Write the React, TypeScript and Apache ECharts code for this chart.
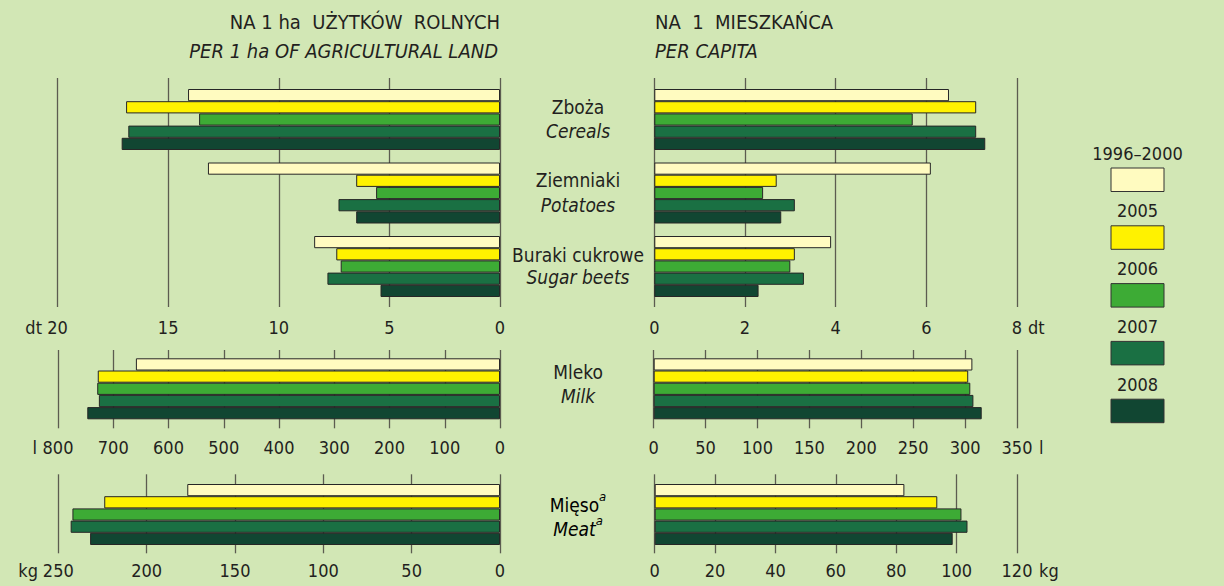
import React, { useEffect, useRef } from "react";
import * as echarts from "echarts";

// ---- data ----
const years = ["1996–2000", "2005", "2006", "2007", "2008"];
const yearColors = ["#fffbc0", "#fff200", "#3dab35", "#1a7043", "#114632"];

const cropNamesPL = ["Zboża", "Ziemniaki", "Buraki cukrowe"];
const cropNamesEN = ["Cereals", "Potatoes", "Sugar beets"];

// values per year (1996–2000, 2005, 2006, 2007, 2008)
const cerealsPerHa = [14.1, 16.9, 13.6, 16.8, 17.1];
const potatoesPerHa = [13.2, 6.5, 5.6, 7.3, 6.5];
const beetsPerHa = [8.4, 7.4, 7.2, 7.8, 5.4];
const cerealsPerCapita = [6.5, 7.1, 5.7, 7.1, 7.3];
const potatoesPerCapita = [6.1, 2.7, 2.4, 3.1, 2.8];
const beetsPerCapita = [3.9, 3.1, 3.0, 3.3, 2.3];
const milkPerHa = [659, 728, 729, 726, 747];
const milkPerCapita = [307, 303, 305, 308, 316];
const meatPerHa = [177, 224, 242, 243, 232];
const meatPerCapita = [82.7, 93.6, 101.6, 103.6, 98.7];

// axis ranges / ticks
const cropsHaAxis = { max: 20, interval: 5 };
const cropsCapAxis = { max: 8, interval: 2 };
const milkHaAxis = { max: 800, interval: 100 };
const milkCapAxis = { max: 350, interval: 50 };
const meatHaAxis = { max: 250, interval: 50 };
const meatCapAxis = { max: 120, interval: 20 };

const FONT = "'Liberation Sans Narrow','DejaVu Sans Condensed','Arial Narrow',sans-serif";
const TXT = "#231f20";
const BG = "#d2e7b5";
const GRIDLINE = "#5c5c50";
const AXIS_FS = 18;
const TITLE_FS = 20;
const CAT_FS = 19;
const LEG_FS = 18;

type Panel = {
  left: number; width: number; linesTop: number; linesH: number;
  barsTop: number; barsH: number; axis: { max: number; interval: number };
  inverse: boolean; products: number[][]; margin: number;
};

const panels: Panel[] = [
  { left: 57.5, width: 442.5, linesTop: 78, linesH: 229, barsTop: 82.75, barsH: 220.5, axis: cropsHaAxis, inverse: true, products: [cerealsPerHa, potatoesPerHa, beetsPerHa], margin: 11 },
  { left: 654.3, width: 362.7, linesTop: 78, linesH: 229, barsTop: 82.75, barsH: 220.5, axis: cropsCapAxis, inverse: false, products: [cerealsPerCapita, potatoesPerCapita, beetsPerCapita], margin: 11 },
  { left: 58, width: 442, linesTop: 350, linesH: 78.3, barsTop: 358.3, barsH: 61, axis: milkHaAxis, inverse: true, products: [milkPerHa], margin: 10 },
  { left: 653.7, width: 363.3, linesTop: 350, linesH: 78.3, barsTop: 358.3, barsH: 61, axis: milkCapAxis, inverse: false, products: [milkPerCapita], margin: 10 },
  { left: 58.3, width: 441.7, linesTop: 474.3, linesH: 79, barsTop: 484, barsH: 61, axis: meatHaAxis, inverse: true, products: [meatPerHa], margin: 8 },
  { left: 654.7, width: 362.3, linesTop: 474.3, linesH: 79, barsTop: 484, barsH: 61, axis: meatCapAxis, inverse: false, products: [meatPerCapita], margin: 8 },
];

function buildOption() {
  const grid: any[] = [];
  const xAxis: any[] = [];
  const yAxis: any[] = [];
  const series: any[] = [];

  panels.forEach((p, pi) => {
    // gridlines + labels
    grid.push({ left: p.left, width: p.width, top: p.linesTop, height: p.linesH });
    xAxis.push({
      type: "value", gridIndex: 2 * pi, min: 0, max: p.axis.max, interval: p.axis.interval,
      inverse: p.inverse, position: "bottom",
      axisLine: { show: false }, axisTick: { show: false },
      splitLine: { show: true, lineStyle: { color: GRIDLINE, width: 1.3 } },
      axisLabel: { show: true, margin: p.margin, color: TXT, fontSize: AXIS_FS, fontFamily: FONT },
    });
    yAxis.push({ type: "category", gridIndex: 2 * pi, data: [""], show: false });
    // bars
    grid.push({ left: p.left, width: p.width, top: p.barsTop, height: p.barsH });
    xAxis.push({
      type: "value", gridIndex: 2 * pi + 1, min: 0, max: p.axis.max, inverse: p.inverse, show: false,
    });
    yAxis.push({
      type: "category", gridIndex: 2 * pi + 1, inverse: true, show: false,
      data: p.products.map((_, i) => (p.products.length === 1 ? "x" : cropNamesEN[i])),
    });
    years.forEach((y, yi) => {
      series.push({
        type: "bar", name: y, xAxisIndex: 2 * pi + 1, yAxisIndex: 2 * pi + 1,
        data: p.products.map((arr) => arr[yi]),
        barWidth: 12.2, barGap: "0%",
        itemStyle: { color: yearColors[yi], borderColor: "#262626", borderWidth: 1 },
        silent: true,
      });
    });
  });

  const txt = (x: number, y: number, text: string, align: string, italic = false, size = TITLE_FS) => ({
    type: "text", x, y,
    style: { text, fill: TXT, font: `${italic ? "italic " : ""}${size}px ${FONT}`, align, verticalAlign: "middle" },
  });

  const graphic: any[] = [];
  // titles
  graphic.push(txt(500, 22, "NA 1 ha  UŻYTKÓW  ROLNYCH", "right"));
  graphic.push(txt(498, 51, "PER 1 ha OF AGRICULTURAL LAND", "right", true));
  graphic.push(txt(655, 22, "NA  1  MIESZKAŃCA", "left"));
  graphic.push(txt(655, 51, "PER CAPITA", "left", true));
  // category labels
  const catYs = [[107, 131], [180, 205], [255, 277]];
  cropNamesPL.forEach((n, i) => {
    graphic.push(txt(578, catYs[i][0], n, "center", false, CAT_FS));
    graphic.push(txt(578, catYs[i][1], cropNamesEN[i], "center", true, CAT_FS));
  });
  graphic.push(txt(578, 372, "Mleko", "center", false, CAT_FS));
  graphic.push(txt(578, 396, "Milk", "center", true, CAT_FS));
  const sup = (base: string, italic: boolean, y: number) => ({
    type: "text", x: 578, y,
    style: {
      text: `{b|${base}}{s|a}`, align: "center", verticalAlign: "middle",
      rich: {
        b: { fontSize: CAT_FS, fontFamily: FONT, fontStyle: italic ? "italic" : "normal", color: TXT, lineHeight: 24, verticalAlign: "bottom" },
        s: { fontSize: 13, fontFamily: FONT, fontStyle: "italic", color: TXT, lineHeight: 24, verticalAlign: "top" },
      },
    },
  });
  graphic.push(sup("Mięso", false, 502));
  graphic.push(sup("Meat", true, 526));
  // units
  graphic.push(txt(42, 327, "dt", "right", false, AXIS_FS));
  graphic.push(txt(1028, 327, "dt", "left", false, AXIS_FS));
  graphic.push(txt(37, 447, "l", "right", false, AXIS_FS));
  graphic.push(txt(1039, 447, "l", "left", false, AXIS_FS));
  graphic.push(txt(38, 570, "kg", "right", false, AXIS_FS));
  graphic.push(txt(1039, 570, "kg", "left", false, AXIS_FS));
  // legend
  years.forEach((y, i) => {
    const top = 168 + i * 57.8;
    graphic.push(txt(1137.5, top - 15, y, "center", false, LEG_FS));
    graphic.push({
      type: "rect", shape: { x: 1111, y: top, width: 53, height: 23.5 },
      style: { fill: yearColors[i], stroke: "#333", lineWidth: 1 },
    });
  });

  return {
    animation: false,
    backgroundColor: BG,
    textStyle: { fontFamily: FONT },
    grid, xAxis, yAxis, series, graphic,
  };
}

export default function App() {
  const ref = useRef<HTMLDivElement>(null);
  useEffect(() => {
    if (!ref.current) return;
    const chart = echarts.init(ref.current, undefined, { renderer: "svg" });
    chart.setOption(buildOption() as any);
    return () => chart.dispose();
  }, []);
  return (
    <div
      ref={ref}
      style={{ position: "absolute", left: 0, top: 0, width: 1224, height: 586 }}
    />
  );
}
